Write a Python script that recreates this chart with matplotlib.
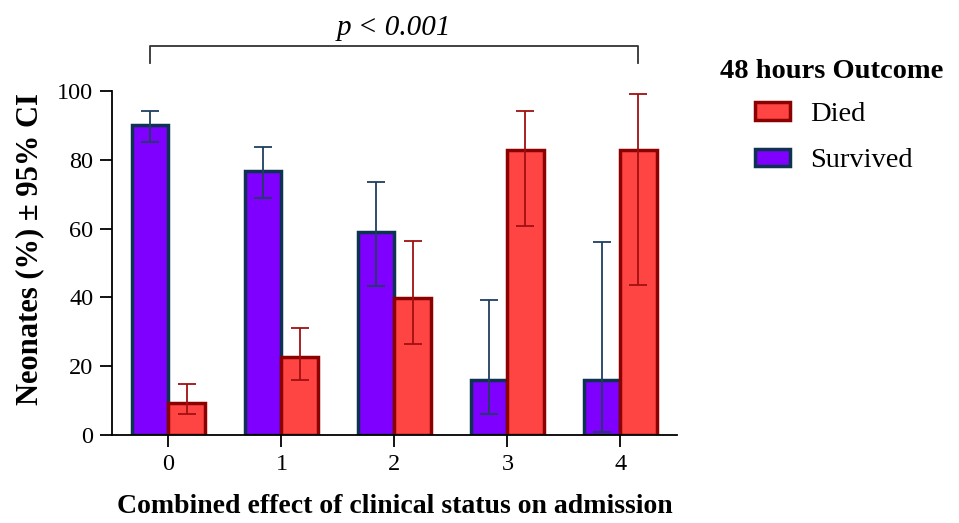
import numpy as np
import matplotlib.pyplot as plt
from matplotlib.patches import Patch

plt.rcParams["font.family"] = ["Liberation Serif", "DejaVu Serif"]

# data
groups = ["0", "1", "2", "3", "4"]
survived = [90.1, 76.8, 58.9, 16.0, 16.0]
survived_lo = [85.3, 68.8, 43.4, 6.0, 1.0]
survived_hi = [94.2, 83.8, 73.7, 39.2, 56.2]
died = [9.3, 22.6, 39.9, 82.8, 82.8]
died_lo = [6.1, 16.0, 26.4, 60.8, 43.6]
died_hi = [14.8, 31.2, 56.5, 94.2, 99.1]

x = np.arange(len(groups))
w = 0.32

surv_fill, surv_edge = "#8000FF", "#0E3252"
died_fill, died_edge = "#FF4444", "#8B0000"

fig = plt.figure(figsize=(9.59, 5.23), dpi=100)
ax = fig.add_axes([0.1168, 0.168, 0.589, 0.658])

s_err = [np.array(survived) - np.array(survived_lo), np.array(survived_hi) - np.array(survived)]
d_err = [np.array(died) - np.array(died_lo), np.array(died_hi) - np.array(died)]

ax.bar(x - w / 2, survived, w, color=surv_fill, edgecolor=surv_edge, linewidth=2.5, zorder=2)
ax.bar(x + w / 2, died, w, color=died_fill, edgecolor=died_edge, linewidth=2.5, zorder=2)
ax.errorbar(x - w / 2, survived, yerr=s_err, fmt="none", ecolor="#1F3F60",
            elinewidth=1.3, capsize=6.5, capthick=1.3, zorder=3)
ax.errorbar(x + w / 2, died, yerr=d_err, fmt="none", ecolor="#A01010",
            elinewidth=1.3, capsize=6.5, capthick=1.3, zorder=3)

ax.set_xlim(-0.5, 4.5)
ax.set_ylim(0, 100)
ax.set_yticks([0, 20, 40, 60, 80, 100])
ax.set_xticks(x)
ax.set_xticklabels(groups)
ax.tick_params(labelsize=17.5, length=8.5, width=1.3, direction="out", pad=5)
for s in ["top", "right"]:
    ax.spines[s].set_visible(False)
for s in ["left", "bottom"]:
    ax.spines[s].set_linewidth(1.3)

ax.set_xlabel("Combined effect of clinical status on admission", fontsize=20,
              fontweight="bold", labelpad=14)
ax.set_ylabel("Neonates (%) \u00b1 95% CI", fontsize=22, fontweight="bold",
              labelpad=9, y=0.542)

# significance bracket
bx0, bx1 = x[0] - w / 2, x[-1] + w / 2
ax.plot([bx0, bx0, bx1, bx1], [108.2, 113.0, 113.0, 108.2], color="#333333",
        lw=1.3, clip_on=False)
ax.text((bx0 + bx1) / 2, 114.6, "p < 0.001", ha="center", va="bottom",
        fontsize=21, fontstyle="italic")

# legend
fig.text(720 / 959, 1 - 72 / 523, "48 hours Outcome", fontsize=20.5, fontweight="bold",
         ha="left", va="center")
handles = [Patch(facecolor=died_fill, edgecolor=died_edge, linewidth=2.5, label="Died"),
           Patch(facecolor=surv_fill, edgecolor=surv_edge, linewidth=2.5, label="Survived")]
fig.legend(handles=handles, loc="upper left", bbox_to_anchor=(755 / 959, 1 - 102 / 523),
           frameon=False, fontsize=20.5, borderaxespad=0, borderpad=0,
           handlelength=1.23, handleheight=0.55, handletextpad=0.7, labelspacing=0.75)

fig.savefig("out.png", dpi=100)
